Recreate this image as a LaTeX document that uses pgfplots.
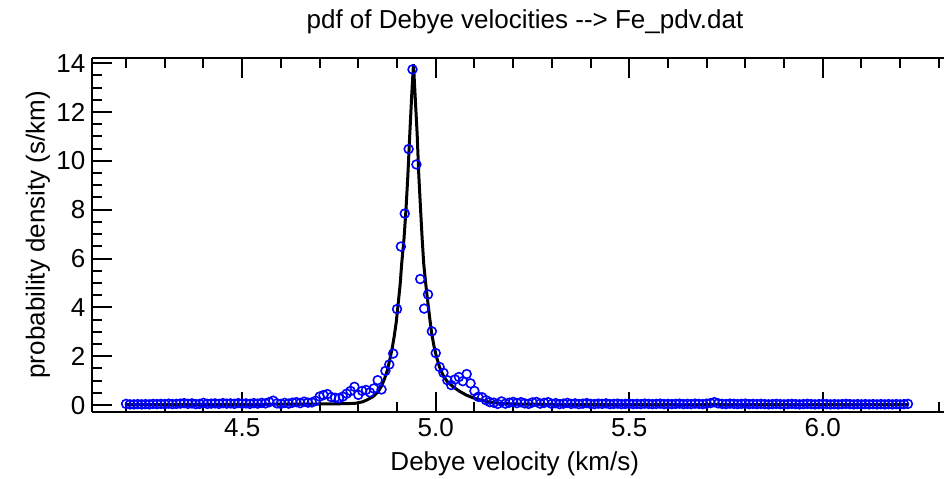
\documentclass[border=0pt]{standalone}
\usepackage{fontspec}
\setmainfont{Liberation Sans}
\usepackage{pgfplots}
\pgfplotsset{compat=1.18}
\begin{document}
\begin{tikzpicture}
\begin{axis}[
  scale only axis, width=425.85pt, height=177pt,
  xmin=4.1127, xmax=6.3132, ymin=-0.27, ymax=14.22,
  axis y line*=left,
  axis line style={line width=1pt, black},
  every tick/.style={line width=1pt, black},
  major tick length=10pt, minor tick length=5pt,
  xtick={4.5,5.0,5.5,6.0}, xticklabels={4.5,5.0,5.5,6.0},
  minor xtick={4.2,4.3,4.4,4.6,4.7,4.8,4.9,5.1,5.2,5.3,5.4,5.6,5.7,5.8,5.9,6.1,6.2,6.3},
  ytick={0,2,4,6,8,10,12,14},
  minor ytick={0.5,1,1.5,2.5,3,3.5,4.5,5,5.5,6.5,7,7.5,8.5,9,9.5,10.5,11,11.5,12.5,13,13.5},
  /pgf/number format/assume math mode=true,
  tick label style={font=\fontsize{13}{15}\selectfont},
  label style={font=\fontsize{13}{15}\selectfont},
  every axis title shift=0pt,
  title style={font=\fontsize{13}{15}\selectfont},
  title={pdf of Debye velocities {-}{-}> Fe\_pdv.dat},
  title style={at={(axis description cs:0.508,1.1008)}, anchor=center},
  xlabel={Debye velocity (km/s)},
  xlabel style={at={(axis description cs:0.496,-0.148)}, anchor=center},
  ylabel={probability density (s/km)},
  ylabel style={at={(axis description cs:-0.0638,0.5)}, anchor=center},
  clip=false,
]
\addplot[only marks, mark=o, mark size=2.2pt, color=blue, mark options={line width=0.8pt}] coordinates {
(4.20,0.05)(4.21,0.03)(4.22,0.03)(4.23,0.04)(4.24,0.03)(4.25,0.04)(4.26,0.03)(4.27,0.05)(4.28,0.04)(4.29,0.05)
(4.30,0.04)(4.31,0.06)(4.32,0.04)(4.33,0.05)(4.34,0.06)(4.35,0.08)(4.36,0.05)(4.37,0.07)(4.38,0.04)(4.39,0.05)
(4.40,0.09)(4.41,0.05)(4.42,0.06)(4.43,0.07)(4.44,0.05)(4.45,0.08)(4.46,0.06)(4.47,0.07)(4.48,0.05)(4.49,0.08)
(4.50,0.06)(4.51,0.07)(4.52,0.05)(4.53,0.08)(4.54,0.06)(4.55,0.09)(4.56,0.07)(4.57,0.12)(4.58,0.18)(4.59,0.07)
(4.60,0.05)(4.61,0.09)(4.62,0.06)(4.63,0.10)(4.64,0.12)(4.65,0.08)(4.66,0.14)(4.67,0.10)(4.68,0.11)(4.69,0.18)
(4.70,0.35)(4.71,0.41)(4.72,0.45)(4.73,0.33)(4.74,0.30)(4.75,0.28)(4.76,0.35)(4.77,0.47)(4.78,0.58)(4.79,0.75)
(4.80,0.42)(4.81,0.58)(4.82,0.62)(4.83,0.52)(4.84,0.68)(4.85,1.02)(4.86,0.64)(4.87,1.40)(4.88,1.66)(4.89,2.11)
(4.90,3.93)(4.91,6.49)(4.92,7.84)(4.93,10.48)(4.94,13.74)(4.95,9.85)(4.96,5.16)(4.97,3.95)(4.98,4.53)(4.99,3.02)
(5.00,2.13)(5.01,1.56)(5.02,1.32)(5.03,1.02)(5.04,0.82)(5.05,1.05)(5.06,1.15)(5.07,0.98)(5.08,1.27)(5.09,0.89)
(5.10,0.58)(5.11,0.34)(5.12,0.32)(5.13,0.20)(5.14,0.12)(5.15,0.10)(5.16,0.05)(5.17,0.15)(5.18,0.06)(5.19,0.10)
(5.20,0.13)(5.21,0.08)(5.22,0.12)(5.23,0.07)(5.24,0.05)(5.25,0.11)(5.26,0.13)(5.27,0.06)(5.28,0.09)(5.29,0.12)
(5.30,0.05)(5.31,0.08)(5.32,0.04)(5.33,0.06)(5.34,0.09)(5.35,0.05)(5.36,0.07)(5.37,0.04)(5.38,0.06)(5.39,0.08)
(5.40,0.05)(5.41,0.04)(5.42,0.06)(5.43,0.05)(5.44,0.07)(5.45,0.04)(5.46,0.05)(5.47,0.06)(5.48,0.04)(5.49,0.05)
(5.50,0.06)(5.51,0.04)(5.52,0.05)(5.53,0.04)(5.54,0.06)(5.55,0.05)(5.56,0.04)(5.57,0.05)(5.58,0.06)(5.59,0.04)
(5.60,0.05)(5.61,0.04)(5.62,0.05)(5.63,0.06)(5.64,0.04)(5.65,0.05)(5.66,0.04)(5.67,0.06)(5.68,0.05)(5.69,0.04)
(5.70,0.06)(5.71,0.08)(5.72,0.12)(5.73,0.07)(5.74,0.05)(5.75,0.04)(5.76,0.06)(5.77,0.05)(5.78,0.04)(5.79,0.05)
(5.80,0.06)(5.81,0.04)(5.82,0.05)(5.83,0.04)(5.84,0.05)(5.85,0.04)(5.86,0.03)(5.87,0.04)(5.88,0.05)(5.89,0.04)
(5.90,0.03)(5.91,0.04)(5.92,0.05)(5.93,0.04)(5.94,0.03)(5.95,0.04)(5.96,0.05)(5.97,0.04)(5.98,0.03)(5.99,0.04)
(6.00,0.05)(6.01,0.04)(6.02,0.03)(6.03,0.04)(6.04,0.03)(6.05,0.04)(6.06,0.05)(6.07,0.04)(6.08,0.03)(6.09,0.04)
(6.10,0.03)(6.11,0.04)(6.12,0.03)(6.13,0.04)(6.14,0.03)(6.15,0.04)(6.16,0.03)(6.17,0.04)(6.18,0.03)(6.19,0.04)
(6.20,0.03)(6.21,0.04)(6.22,0.05)
};
\addplot[black, line width=1.5pt] coordinates {
(4.20,0.02)(4.50,0.03)(4.65,0.04)(4.74,0.05)(4.791,0.07)(4.81,0.13)(4.821,0.20)(4.838,0.35)(4.851,0.54)
(4.860,0.78)(4.868,1.09)(4.875,1.42)(4.881,1.84)(4.887,2.28)(4.8925,2.79)(4.898,3.40)(4.903,4.15)
(4.908,4.92)(4.912,5.78)(4.918,6.80)(4.923,7.96)(4.928,9.40)(4.933,11.10)(4.938,12.70)(4.9425,13.95)
(4.947,12.60)(4.952,11.10)(4.956,9.50)(4.961,7.96)(4.965,6.80)(4.969,5.78)(4.975,4.85)(4.980,4.15)
(4.985,3.50)(4.989,2.99)(4.995,2.45)(5.002,1.97)(5.010,1.55)(5.019,1.22)(5.030,0.96)(5.045,0.75)
(5.060,0.58)(5.079,0.41)(5.098,0.29)(5.118,0.20)(5.140,0.12)(5.165,0.07)(5.22,0.04)(5.294,0.03)(5.6,0.025)(6.22,0.02)
};
\coordinate (bl) at (rel axis cs:0,0);
\coordinate (tr) at (rel axis cs:1,1);
\end{axis}
\pgfresetboundingbox
\path[use as bounding box] ([xshift=-46.15pt,yshift=-33.15pt]bl) rectangle ([yshift=28.85pt]tr);
\end{tikzpicture}
\end{document}
